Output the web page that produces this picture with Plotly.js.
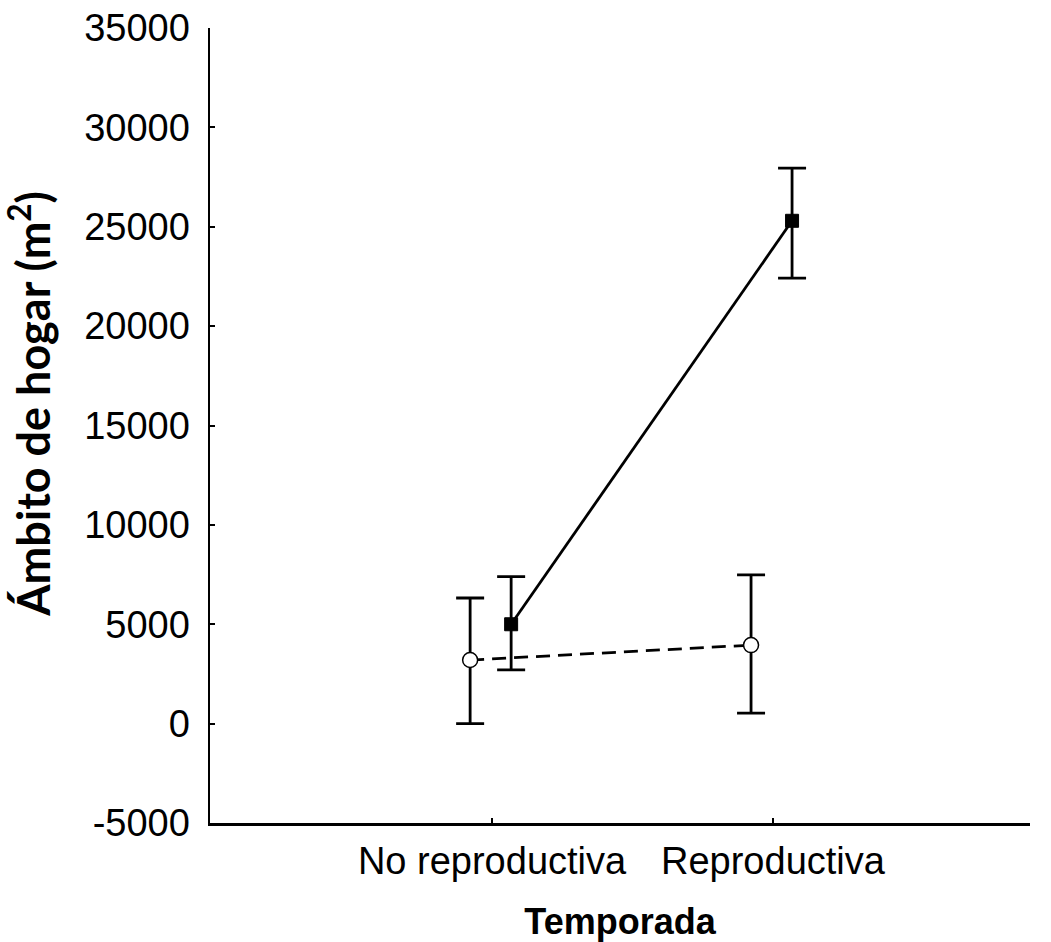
<!DOCTYPE html>
<html>
<head>
<meta charset="utf-8">
<script src="https://cdn.plot.ly/plotly-3.0.1.min.js"></script>
<style>html,body{margin:0;padding:0;background:#fff;}#chart{width:1051px;height:942px;}</style>
</head>
<body>
<div id="chart"></div>
<script>
const categories = ["No reproductiva", "Reproductiva"];
// Filled squares, solid line
const seriesA = [5000, 25300];
const seriesAUpper = [7400, 27950];
const seriesALower = [2700, 22420];
// Open circles, dashed line
const seriesB = [3200, 3950];
const seriesBUpper = [6320, 7480];
const seriesBLower = [0, 530];
const yTicks = [-5000, 0, 5000, 10000, 15000, 20000, 25000, 30000, 35000];
const xTitle = 'Temporada';
const yTitle = 'Ámbito de hogar (m<sup>2</sup>)';

const offA = 0.068, offB = -0.078;
const idx = categories.map((c, i) => i);

function errs(vals, up, lo) {
  return {
    plus: up.map((u, i) => u - vals[i]),
    minus: lo.map((l, i) => vals[i] - l)
  };
}
const eA = errs(seriesA, seriesAUpper, seriesALower);
const eB = errs(seriesB, seriesBUpper, seriesBLower);

const traces = [
  {
    x: idx.map(i => i + offB), y: seriesB, type: 'scatter', mode: 'lines+markers',
    line: {color: '#000', width: 2.8, dash: '14px,8px'},
    marker: {symbol: 'circle', size: 15, color: '#fff', line: {color: '#000', width: 1.5}},
    error_y: {type: 'data', symmetric: false, array: eB.plus, arrayminus: eB.minus,
              color: '#000', thickness: 2.8, width: 14},
    showlegend: false, hoverinfo: 'y'
  },
  {
    x: idx.map(i => i + offA), y: seriesA, type: 'scatter', mode: 'lines+markers',
    line: {color: '#000', width: 2.8},
    marker: {symbol: 'square', size: 13, color: '#000', line: {color: '#000', width: 1}},
    error_y: {type: 'data', symmetric: false, array: eA.plus, arrayminus: eA.minus,
              color: '#000', thickness: 2.8, width: 14},
    showlegend: false, hoverinfo: 'y'
  }
];

const layout = {
  width: 1051, height: 942,
  margin: {l: 210, r: 21, t: 28, b: 119},
  paper_bgcolor: '#fff', plot_bgcolor: '#fff',
  font: {family: 'Arial, "Liberation Sans", sans-serif', color: '#000'},
  xaxis: {
    range: [-1.004, 1.915],
    tickvals: idx, ticktext: categories,
    showgrid: false, zeroline: false,
    showline: true, linecolor: '#000', linewidth: 2.5,
    ticks: 'inside', ticklen: 5, tickwidth: 2, tickcolor: '#000',
    ticklabelstandoff: 3,
    tickfont: {size: 38, family: 'Arial, "Liberation Sans", sans-serif'},
    title: {text: xTitle, font: {size: 36, family: 'Arial, "Liberation Sans", sans-serif', weight: 'bold'}, standoff: 28}
  },
  yaxis: {
    range: [-5000, 35000],
    tickvals: yTicks, ticktext: yTicks.map(String),
    showgrid: false, zeroline: false,
    showline: true, linecolor: '#000', linewidth: 2.5,
    ticks: 'inside', ticklen: 5, tickwidth: 2, tickcolor: '#000',
    ticklabelstandoff: 10,
    tickfont: {size: 38, family: 'Arial, "Liberation Sans", sans-serif'}
  },
  annotations: [{
    text: yTitle, xref: 'paper', yref: 'paper',
    x: -0.219, y: 0.528, xanchor: 'center', yanchor: 'middle',
    textangle: -90, showarrow: false,
    font: {size: 45, family: 'Lato, "Open Sans", sans-serif', weight: 'bold', color: '#000'}
  }]
};

Plotly.newPlot('chart', traces, layout, {displayModeBar: false, staticPlot: true});
</script>
</body>
</html>
